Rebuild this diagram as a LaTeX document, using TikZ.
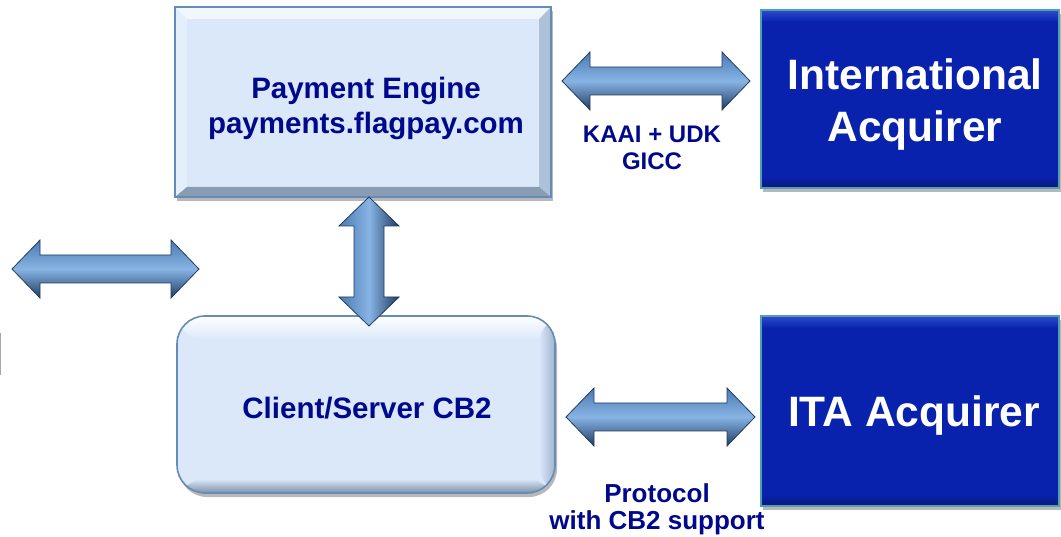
\documentclass[tikz,border=0pt]{standalone}
\usepackage{fontspec}
\setmainfont{Liberation Sans}
\usetikzlibrary{calc,shadows}
\definecolor{navytext}{RGB}{0,8,140}
\definecolor{lightfill}{RGB}{218,232,250}
\definecolor{lightedge}{RGB}{100,140,185}
\definecolor{bevdark}{RGB}{125,143,165}
\definecolor{bevright}{RGB}{160,180,205}
\definecolor{darkfill}{RGB}{8,34,174}
\definecolor{darktop}{RGB}{45,75,205}
\definecolor{darkbot}{RGB}{10,25,125}
\definecolor{darkedge}{RGB}{80,160,180}
\definecolor{arrowdark}{RGB}{32,60,98}
\definecolor{arrowmid}{RGB}{75,122,178}
\definecolor{arrowlight}{RGB}{135,180,228}
\newcommand{\blockh}[2]{%
  \shadedraw[harr] (#1) -- ($(#1)+(28,-29)$) -- ($(#1)+(28,-14)$) -- ($(#2)+(-28,-14)$)
   -- ($(#2)+(-28,-29)$) -- (#2) -- ($(#2)+(-28,29)$) -- ($(#2)+(-28,14)$)
   -- ($(#1)+(28,14)$) -- ($(#1)+(28,29)$) -- cycle;}
\newcommand{\blockv}[2]{%
  \shadedraw[varr] (#1) -- ($(#1)+(30,29)$) -- ($(#1)+(15,29)$) -- ($(#2)+(15,-29)$)
   -- ($(#2)+(30,-29)$) -- (#2) -- ($(#2)+(-30,-29)$) -- ($(#2)+(-15,-29)$)
   -- ($(#1)+(-15,29)$) -- ($(#1)+(-30,29)$) -- cycle;}
\tikzset{
  softshadow/.style={drop shadow={shadow xshift=2pt, shadow yshift=-4pt, opacity=0.28, fill=black}},
  lightbox/.style={draw=lightedge, line width=1.6pt, fill=lightfill, inner sep=0pt, softshadow},
  darkbox/.style={draw=darkedge, line width=1.6pt, fill=darkfill, inner sep=0pt, softshadow,
    path picture={
      \coordinate (nw) at (path picture bounding box.north west);
      \coordinate (ne) at (path picture bounding box.north east);
      \coordinate (sw) at (path picture bounding box.south west);
      \coordinate (se) at (path picture bounding box.south east);
      \shade[top color=darktop, bottom color=darkfill] (nw) rectangle ($(ne)+(0,12)$);
      \shade[top color=darkfill, bottom color=darkbot] ($(sw)+(0,-12)$) rectangle (se);
    }},
  boxtext/.style={text=navytext, font=\bfseries\fontsize{29.5}{35}\selectfont, align=center, inner sep=0pt},
  bigtext/.style={text=white, font=\bfseries\fontsize{42.5}{52}\selectfont, align=center, inner sep=0pt},
  squarebevel/.style={path picture={
      \coordinate (nw) at (path picture bounding box.north west);
      \coordinate (ne) at (path picture bounding box.north east);
      \coordinate (sw) at (path picture bounding box.south west);
      \coordinate (se) at (path picture bounding box.south east);
      \fill[white, opacity=0.65] (nw) -- (ne) -- ($(ne)+(-12,12)$) -- ($(nw)+(12,12)$) -- cycle;
      \fill[white, opacity=0.3] (nw) -- ($(nw)+(12,12)$) -- ($(sw)+(12,-10)$) -- (sw) -- cycle;
      \fill[bevright, opacity=0.75] (ne) -- ($(ne)+(-12,12)$) -- ($(se)+(-12,-10)$) -- (se) -- cycle;
      \fill[bevdark, opacity=0.85] (sw) -- ($(sw)+(12,-10)$) -- ($(se)+(-12,-10)$) -- (se) -- cycle;
    }},
  roundbevel/.style={rounded corners=28pt, path picture={
      \coordinate (nw) at (path picture bounding box.north west);
      \coordinate (ne) at (path picture bounding box.north east);
      \coordinate (sw) at (path picture bounding box.south west);
      \coordinate (se) at (path picture bounding box.south east);
      \shade[top color=white, bottom color=lightfill] (nw) rectangle ($(ne)+(0,24)$);
      \shade[left color=lightfill, right color=bevright] ($(ne)+(-16,0)$) rectangle (se);
      \shade[top color=lightfill, bottom color=bevdark] ($(sw)+(0,-14)$) rectangle (se);
    }},
  labeltext/.style={text=navytext, font=\bfseries\fontsize{24}{27}\selectfont, align=center, inner sep=0pt},
  harr/.style={draw=arrowdark, line width=0.8pt, top color=arrowmid, bottom color=arrowdark, middle color=arrowlight},
  varr/.style={draw=arrowdark, line width=0.8pt, left color=arrowmid, right color=arrowdark, middle color=arrowlight}
}
\begin{document}
\begin{tikzpicture}[x=1pt, y=-1pt]
\useasboundingbox (0,0) rectangle (1061,537);
% boxes
\node[lightbox, squarebevel, minimum width=376pt, minimum height=190pt] (pe) at (363,102) {};
\node[lightbox, roundbevel, minimum width=378pt, minimum height=177pt] (cs) at (366,404.5) {};
\node[darkbox, minimum width=298pt, minimum height=178pt] (ia) at (910,99) {};
\node[darkbox, minimum width=298pt, minimum height=190pt] (ita) at (910,411) {};
% box texts
\node[boxtext] (pet) at ($(pe.center)+(3,6)$) {Payment Engine\\payments.flagpay.com};
\node[boxtext] (cst) at ($(cs.center)+(1,4)$) {Client/Server CB2};
\node[bigtext] (iat) at ($(ia.center)+(5,6)$) {International\\Acquirer};
\node[bigtext] (itat) at ($(ita.center)+(4,5)$) {ITA Acquirer};
% arrow end points
\coordinate (t1) at (562,81);   \coordinate (t2) at (750,81);
\coordinate (l1) at (12,269);   \coordinate (l2) at (199,269);
\coordinate (v1) at (369,197);  \coordinate (v2) at (369,326);
\coordinate (b1) at (566,417);  \coordinate (b2) at (755,417);
\blockh{t1}{t2}
\blockh{l1}{l2}
\blockv{v1}{v2}
\blockh{b1}{b2}
% labels
\node[labeltext] (lab1) at (652,148) {KAAI + UDK\\GICC};
\node[labeltext, font=\bfseries\fontsize{26}{27}\selectfont] (lab2) at (657,509) {Protocol\\with CB2 support};
% cut-off fragment at left edge
\draw[gray!70, line width=1pt] (0.5,333) -- (0.5,375);
\end{tikzpicture}
\end{document}
